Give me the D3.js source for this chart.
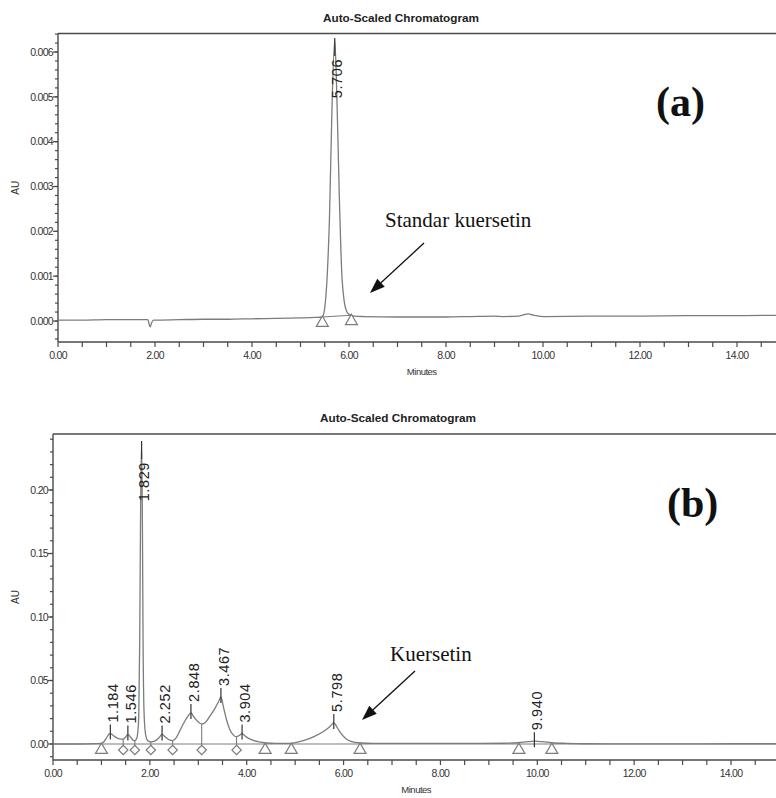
<!DOCTYPE html>
<html>
<head>
<meta charset="utf-8">
<script src="https://cdn.jsdelivr.net/npm/d3@7"></script>
<style>
html,body{margin:0;padding:0;background:#fff;}
svg{display:block;}
</style>
</head>
<body>
<svg id="chart" width="776" height="798"></svg>
<script>
// ---------------- DATA ----------------
// Chromatogram (a): standard quercetin
const timeA = [0.0,0.5,1.0,1.5,1.85,1.9,1.93,1.97,2.0,2.5,3.0,3.5,4.0,4.5,5.0,5.3,5.45,5.5,5.55,5.6,5.65,5.706,5.75,5.8,5.85,5.9,5.95,6.0,6.05,6.1,6.3,7.0,8.0,8.5,9.0,9.2,9.5,9.7,9.8,10.0,11.0,12.0,13.0,14.0,15.0];
const auA   = [0.00002,0.00002,0.00003,0.00003,0.00003,-0.00013,-0.00004,0.00002,0.00002,0.00003,0.00004,0.00004,0.00005,0.00006,0.00007,0.00008,0.00009,0.0003,0.0010,0.0024,0.0048,0.00627,0.0050,0.0028,0.0011,0.00045,0.00022,0.00015,0.00013,0.00011,0.00010,0.00009,0.00009,0.00010,0.00011,0.00010,0.00011,0.00016,0.00013,0.00010,0.00011,0.00011,0.00012,0.00012,0.00013];
const peaksA = [5.706];
const trianglesA = [5.45, 6.05];

// Chromatogram (b): sample
const timeB = [0.0,0.5,0.9,1.0,1.05,1.1,1.15,1.184,1.25,1.32,1.4,1.45,1.5,1.546,1.6,1.65,1.69,1.73,1.77,1.79,1.81,1.829,1.845,1.86,1.88,1.91,1.95,2.02,2.1,2.18,2.252,2.32,2.4,2.47,2.55,2.62,2.7,2.78,2.848,2.9,2.97,3.07,3.15,3.25,3.35,3.42,3.467,3.52,3.58,3.65,3.72,3.78,3.85,3.904,3.97,4.05,4.15,4.25,4.4,4.6,4.9,5.0,5.2,5.4,5.6,5.72,5.798,5.88,5.95,6.05,6.15,6.35,6.6,7.5,8.5,9.3,9.6,9.8,9.94,10.1,10.3,10.6,11.0,12.0,13.0,14.0,15.0];
const auB   = [0.0,0.0,0.0003,0.0005,0.0018,0.0045,0.0075,0.0082,0.0065,0.0048,0.0038,0.0038,0.0055,0.0075,0.0055,0.0032,0.0026,0.0045,0.02,0.08,0.19,0.237,0.18,0.08,0.025,0.008,0.003,0.0016,0.0022,0.0045,0.0075,0.0055,0.0032,0.0027,0.0052,0.0105,0.0165,0.0215,0.0245,0.0218,0.0185,0.0158,0.0172,0.0225,0.0285,0.0335,0.037,0.029,0.0195,0.0115,0.0072,0.0058,0.0068,0.0082,0.0062,0.0042,0.0026,0.0016,0.0008,0.0005,0.0005,0.001,0.003,0.006,0.0102,0.0138,0.0166,0.0122,0.0082,0.0042,0.0021,0.0008,0.0005,0.0005,0.0005,0.0006,0.001,0.0018,0.0022,0.0018,0.001,0.0005,0.0002,0.0001,0.0001,0.0002,0.0002];
const peaksB = [1.184,1.546,1.829,2.252,2.848,3.467,3.904,5.798,9.940];
const trianglesB = [1.0,4.38,4.92,6.34,9.62,10.3];
const diamondsB = [1.45,1.69,2.02,2.47,3.07,3.79];

// Axis ticks and labels
const xTicks = [0,2,4,6,8,10,12,14];
const xTickLabels = ["0.00","2.00","4.00","6.00","8.00","10.00","12.00","14.00"];
const yTicksA = [0,0.001,0.002,0.003,0.004,0.005,0.006];
const yTickLabelsA = ["0.000","0.001","0.002","0.003","0.004","0.005","0.006"];
const yTicksB = [0,0.05,0.10,0.15,0.20];
const yTickLabelsB = ["0.00","0.05","0.10","0.15","0.20"];

const titleText = "Auto-Scaled Chromatogram";
const xLabelText = "Minutes";
const yLabelText = "AU";
// --------------------------------------

const svg = d3.select("#chart");
const axisColor = "#4a4a4a";
const traceColor = "#7c7c7c";
const textColor = "#333";
const tickFont = "'Liberation Sans Narrow','Arial Narrow','Liberation Sans',Arial,sans-serif";

function drawPanel(cfg) {
  const g = svg.append("g");
  const x = d3.scaleLinear().domain([0, 15]).range([cfg.left, cfg.left + 15 * cfg.pxPerMin]);
  const y = d3.scaleLinear().domain(cfg.yDomain).range([cfg.bottom, cfg.top]);

  // title
  g.append("text").attr("x", cfg.titleX).attr("y", cfg.titleY)
    .attr("text-anchor", "middle").attr("font-family", "'Liberation Sans',Arial,sans-serif")
    .attr("font-weight", "bold").attr("font-size", 11.5).attr("fill", "#222")
    .attr("textLength", 156).attr("lengthAdjust", "spacingAndGlyphs").text(titleText);

  // frame top line and axes
  g.append("line").attr("x1", cfg.left).attr("x2", 776).attr("y1", cfg.top).attr("y2", cfg.top)
    .attr("stroke", axisColor).attr("stroke-width", 1.4);
  g.append("line").attr("x1", cfg.left).attr("x2", cfg.left).attr("y1", cfg.top).attr("y2", cfg.bottom)
    .attr("stroke", axisColor).attr("stroke-width", 1.4);
  g.append("line").attr("x1", cfg.left).attr("x2", 776).attr("y1", cfg.bottom).attr("y2", cfg.bottom)
    .attr("stroke", axisColor).attr("stroke-width", 1.4);

  // x ticks (every 0.5 min)
  const xMinor = d3.range(0, 15.01, 0.5);
  g.selectAll(".xt").data(xMinor).enter().append("line")
    .attr("x1", d => x(d)).attr("x2", d => x(d))
    .attr("y1", cfg.bottom).attr("y2", cfg.bottom + 5)
    .attr("stroke", axisColor).attr("stroke-width", 1.2);
  g.selectAll(".xl").data(xTicks).enter().append("text")
    .attr("x", d => x(d)).attr("y", cfg.bottom + 17)
    .attr("text-anchor", "middle").attr("font-family", tickFont).attr("font-size", 10.5)
    .attr("letter-spacing", "-0.7").attr("fill", textColor)
    .text((d, i) => xTickLabels[i]);
  g.append("text").attr("x", (cfg.left + x(15)) / 2).attr("y", cfg.bottom + 33)
    .attr("text-anchor", "middle").attr("font-family", tickFont).attr("font-size", 9.5)
    .attr("letter-spacing", "-0.5").attr("fill", textColor).text(xLabelText);

  // y ticks
  const yMinor = d3.range(cfg.yMinorStart, cfg.yDomain[1], cfg.yMinorStep);
  g.selectAll(".ym").data(yMinor).enter().append("line")
    .attr("x1", cfg.left - 3).attr("x2", cfg.left)
    .attr("y1", d => y(d)).attr("y2", d => y(d))
    .attr("stroke", axisColor).attr("stroke-width", 1.2);
  g.selectAll(".yM").data(cfg.yTicks).enter().append("line")
    .attr("x1", cfg.left - 5).attr("x2", cfg.left)
    .attr("y1", d => y(d)).attr("y2", d => y(d))
    .attr("stroke", axisColor).attr("stroke-width", 1.2);
  g.selectAll(".yl").data(cfg.yTicks).enter().append("text")
    .attr("x", cfg.left - 5).attr("y", d => y(d)).attr("dy", "0.35em")
    .attr("text-anchor", "end").attr("font-family", tickFont).attr("font-size", 10.5)
    .attr("letter-spacing", "-0.7").attr("fill", textColor)
    .text((d, i) => cfg.yTickLabels[i]);
  g.append("text")
    .attr("transform", `translate(19,${(cfg.top + cfg.bottom) / 2}) rotate(-90)`)
    .attr("text-anchor", "middle").attr("font-family", tickFont).attr("font-size", 10)
    .attr("fill", textColor).text(yLabelText);

  const data = cfg.times.map((t, i) => ({ t: t, v: cfg.values[i] }));
  const valueAt = t => {
    const b = d3.bisector(d => d.t).left(data, t);
    if (b <= 0) return data[0].v;
    if (b >= data.length) return data[data.length - 1].v;
    const a = data[b - 1], c = data[b];
    return a.v + (c.v - a.v) * (t - a.t) / (c.t - a.t);
  };

  // integration baseline
  if (cfg.fullBaseline) {
    g.append("line").attr("x1", cfg.left).attr("x2", 776).attr("y1", y(0)).attr("y2", y(0))
      .attr("stroke", traceColor).attr("stroke-width", 1.1);
  } else {
    const tri = cfg.triangles;
    g.append("line").attr("x1", x(tri[0])).attr("x2", x(tri[1]))
      .attr("y1", y(valueAt(tri[0]))).attr("y2", y(valueAt(tri[1])))
      .attr("stroke", traceColor).attr("stroke-width", 1.1);
  }

  // drop lines at valleys
  (cfg.diamonds || []).forEach(t => {
    g.append("line").attr("x1", x(t)).attr("x2", x(t))
      .attr("y1", y(valueAt(t))).attr("y2", y(cfg.markerBase) + 2)
      .attr("stroke", traceColor).attr("stroke-width", 1.1);
  });

  // trace
  const line = d3.line().x(d => x(d.t)).y(d => y(d.v)).curve(d3.curveMonotoneX);
  g.append("path").datum(data).attr("d", line)
    .attr("fill", "none").attr("stroke", traceColor).attr("stroke-width", 1.3);

  // markers
  const mY = t => y(cfg.fullBaseline ? 0 : valueAt(t)) + 6;
  g.selectAll(".tri").data(cfg.triangles).enter().append("path")
    .attr("d", d3.symbol().type(d3.symbolTriangle).size(62))
    .attr("transform", d => `translate(${x(d)},${mY(d)})`)
    .attr("fill", "#fff").attr("stroke", traceColor).attr("stroke-width", 1.2);
  g.selectAll(".dia").data(cfg.diamonds || []).enter().append("path")
    .attr("d", d3.symbol().type(d3.symbolSquare).size(44))
    .attr("transform", d => `translate(${x(d)},${mY(d)}) rotate(45)`)
    .attr("fill", "#fff").attr("stroke", traceColor).attr("stroke-width", 1.2);

  // peak labels
  cfg.peaks.forEach(p => {
    const apexY = y(valueAt(p));
    const px = x(p);
    const txt = g.append("text").attr("font-family", "'Liberation Sans',Arial,sans-serif")
      .attr("font-size", 14.5).attr("letter-spacing", "0.6").attr("fill", "#222")
      .attr("dy", "0.36em").text(p.toFixed(3));
    const L = txt.node().getComputedTextLength();
    let bottomY, t1, t2;
    if (apexY - 11 - L < cfg.top + 18) {
      t1 = apexY - 2; t2 = apexY + 16;
      bottomY = apexY + 19 + L;
    } else {
      t1 = apexY - 9; t2 = apexY + 6;
      bottomY = apexY - 11;
    }
    g.append("line").attr("x1", px).attr("x2", px).attr("y1", t1).attr("y2", t2)
      .attr("stroke", "#333").attr("stroke-width", 1.2);
    txt.attr("transform", `translate(${px + 2.5},${bottomY}) rotate(-90)`);
  });

  // annotation
  g.append("text").attr("x", cfg.annX).attr("y", cfg.annY)
    .attr("font-family", "'Liberation Serif','Times New Roman',serif").attr("font-size", 21)
    .attr("fill", "#111").text(cfg.annText);
  const [ax1, ay1, ax2, ay2] = cfg.arrow;
  const ang = Math.atan2(ay2 - ay1, ax2 - ax1);
  const hl = 15, hw = 5.5;
  const bx = ax2 - hl * Math.cos(ang), by = ay2 - hl * Math.sin(ang);
  g.append("line").attr("x1", ax1).attr("y1", ay1).attr("x2", bx).attr("y2", by)
    .attr("stroke", "#111").attr("stroke-width", 1.3);
  g.append("path")
    .attr("d", `M${ax2},${ay2} L${bx + hw * Math.sin(ang)},${by - hw * Math.cos(ang)} L${bx - hw * Math.sin(ang)},${by + hw * Math.cos(ang)} Z`)
    .attr("fill", "#111");
  g.append("text").attr("x", cfg.tagX).attr("y", cfg.tagY)
    .attr("font-family", "'Liberation Serif','Times New Roman',serif").attr("font-weight", "bold")
    .attr("font-size", 42).attr("fill", "#111").text(cfg.tag);
}

drawPanel({
  left: 58, pxPerMin: 48.5, top: 33.5, bottom: 342,
  yDomain: [-0.000468, 0.006413], yMinorStart: -0.0004, yMinorStep: 0.0002,
  yTicks: yTicksA, yTickLabels: yTickLabelsA,
  times: timeA, values: auA, peaks: peaksA, triangles: trianglesA, diamonds: [],
  fullBaseline: false, markerBase: 0,
  titleX: 401, titleY: 22,
  annText: "Standar kuersetin", annX: 385, annY: 227, arrow: [424, 243, 370, 293],
  tag: "(a)", tagX: 656, tagY: 116
});

drawPanel({
  left: 53, pxPerMin: 48.43, top: 434, bottom: 760,
  yDomain: [-0.0126, 0.2441], yMinorStart: -0.01, yMinorStep: 0.01,
  yTicks: yTicksB, yTickLabels: yTickLabelsB,
  times: timeB, values: auB, peaks: peaksB, triangles: trianglesB, diamonds: diamondsB,
  fullBaseline: true, markerBase: 0,
  titleX: 398, titleY: 422,
  annText: "Kuersetin", annX: 390, annY: 661, arrow: [415, 671, 362, 720],
  tag: "(b)", tagX: 667, tagY: 517
});
</script>
</body>
</html>
